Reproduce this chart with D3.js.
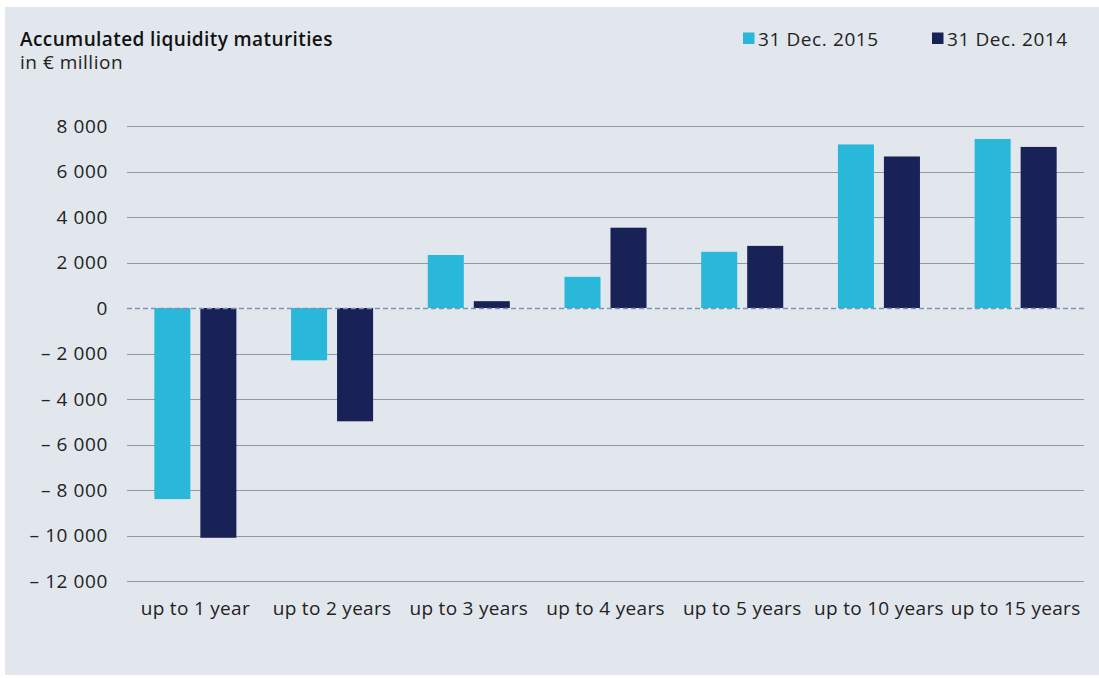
<!DOCTYPE html>
<html><head><meta charset="utf-8">
<script src="https://cdn.jsdelivr.net/npm/d3@7"></script>
<style>
html,body{margin:0;padding:0;background:#fff;}
svg{display:block;font-family:"Open Sans", sans-serif;}
</style></head>
<body>
<svg id="chart" width="1099" height="678"></svg>
<script>
const categories = ["up to 1 year","up to 2 years","up to 3 years","up to 4 years","up to 5 years","up to 10 years","up to 15 years"];
const seriesNames = ["31 Dec. 2015","31 Dec. 2014"];
const values2015 = [-8400, -2300, 2330, 1370, 2470, 7190, 7430];
const values2014 = [-10100, -4980, 300, 3530, 2730, 6660, 7080];
const yTicks = [8000,6000,4000,2000,0,-2000,-4000,-6000,-8000,-10000,-12000];
const colors = ["#29b8da","#182256"];

(function(){
const FONT = '"Open Sans", sans-serif';
const FS = 19;
const svg = d3.select("#chart");
svg.append("rect").attr("x",5).attr("y",7).attr("width",1094).attr("height",668).attr("fill","#e2e7ee");

const pLeft=127, pRight=1084, pTop=126, pBottom=581;
const y = d3.scaleLinear().domain([-12000,8000]).range([pBottom, pTop]);
const x0 = d3.scaleBand().domain(categories).range([pLeft,pRight]).padding(0);
const x1 = d3.scaleBand().domain(seriesNames).range([0,x0.bandwidth()]).paddingInner(0.217).paddingOuter(0.594);

const fmt = v => {
  const s = d3.format(",")(Math.abs(v)).replace(/,/g," ");
  return v<0 ? "\u2013 " + s : s;
};

const grid = svg.append("g");
grid.selectAll("line").data(yTicks.filter(d=>d!==0)).enter().append("line")
  .attr("x1",pLeft).attr("x2",pRight)
  .attr("y1",d=>Math.round(y(d))+0.5).attr("y2",d=>Math.round(y(d))+0.5)
  .attr("stroke","#8c9ba3").attr("stroke-width",1.2);

const yAxis = d3.axisLeft(y).tickValues(yTicks).tickFormat(fmt).tickSize(0).tickPadding(0);
const ya = svg.append("g").attr("transform",`translate(108,0)`).call(yAxis);
ya.select(".domain").remove();
ya.selectAll("text").attr("font-size",FS).attr("fill","#222").attr("font-family",FONT).attr("letter-spacing",0.6);

const data = categories.map((c,i)=>({cat:c, vals:[values2015[i], values2014[i]]}));
const groups = svg.append("g").selectAll("g").data(data).enter().append("g")
  .attr("transform",d=>`translate(${x0(d.cat)},0)`);
groups.selectAll("rect").data(d=>d.vals.map((v,j)=>({v, s:seriesNames[j], j}))).enter().append("rect")
  .attr("x",d=>x1(d.s)).attr("width",x1.bandwidth())
  .attr("y",d=>y(Math.max(0,d.v))).attr("height",d=>Math.abs(y(d.v)-y(0)))
  .attr("fill",d=>colors[d.j]);

svg.append("line").attr("x1",pLeft).attr("x2",pRight)
  .attr("y1",Math.round(y(0))+0.5).attr("y2",Math.round(y(0))+0.5)
  .attr("stroke","#7b93b6").attr("stroke-width",1.6).attr("stroke-dasharray","5,3");

const xAxis = d3.axisBottom(x0).tickSize(0).tickPadding(0);
const xa = svg.append("g").attr("transform",`translate(0,615)`).call(xAxis);
xa.select(".domain").remove();
xa.selectAll("text").attr("dy",0).attr("font-size",FS).attr("fill","#222").attr("font-family",FONT).attr("letter-spacing",0.3);

svg.append("text").attr("x",20).attr("y",45.5).text("Accumulated liquidity maturities")
  .attr("font-size",FS).attr("font-weight",600).attr("fill","#111").attr("font-family",FONT).attr("letter-spacing",0.4);
svg.append("text").attr("x",20).attr("y",69).text("in € million")
  .attr("font-size",FS).attr("fill","#222").attr("font-family",FONT).attr("letter-spacing",0.5);

const legX = [743, 932];
seriesNames.forEach((s,i)=>{
  svg.append("rect").attr("x",legX[i]).attr("y",32.5).attr("width",11.5).attr("height",11.5).attr("fill",colors[i]);
  svg.append("text").attr("x",legX[i]+15).attr("y",46).text(s).attr("font-size",FS).attr("fill","#222").attr("font-family",FONT).attr("letter-spacing",0.6);
});
})();
</script>
</body></html>
